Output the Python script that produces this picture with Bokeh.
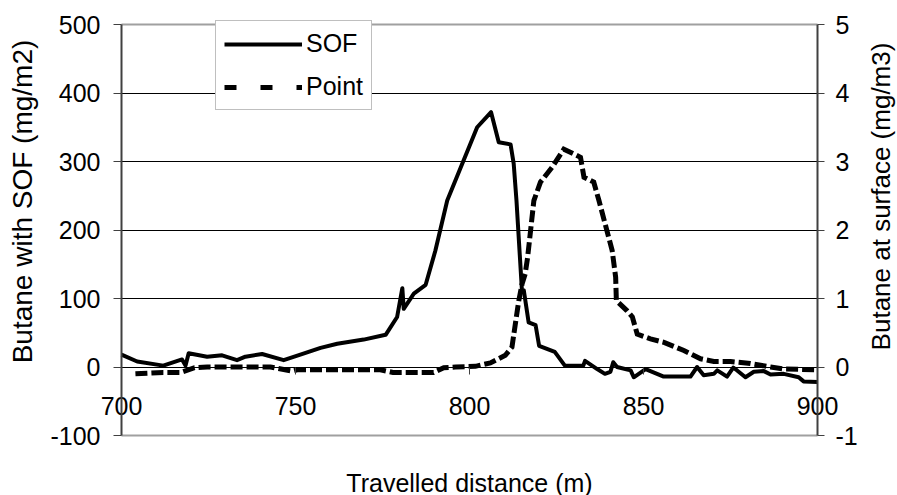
import math
from bokeh.plotting import figure
from bokeh.models import (Range1d, LinearAxis, FixedTicker, Legend, LegendItem, Label, Grid)
from bokeh.embed import file_html
from bokeh.resources import INLINE

# ---- data ----
sof_x = [700, 704.5, 712, 717.4, 718.4, 719.3, 724.6, 728.9, 733.2, 735.6, 740.4, 746.6,
         751.4, 757.2, 762, 769.6, 775.9, 779.2, 780.7, 781.1, 784, 787.4, 790.2, 793.6,
         802.2, 806.2, 808.4, 811.8, 812.7, 813.5, 815.1, 815.6, 817, 819, 820, 824.5,
         827.4, 832.7, 833.2, 836.7, 838.9, 840.5, 841.3, 842.4, 846.3, 847.2, 850.6,
         855.8, 863.5, 865.4, 867.3, 870.2, 871.2, 874, 875.8, 876.9, 879.3, 881.7,
         884.6, 886.5, 890.3, 894.6, 896, 900]
sof_y = [18, 8, 2, 11, 2, 20, 15, 17, 10, 15, 19, 10,
         18, 28, 34, 40, 47, 73, 115, 85, 107, 120, 170, 243,
         350, 372, 328, 325, 297, 243, 109, 112, 65, 61, 31, 22,
         2, 2, 9, -3, -10, -7, 7, 0, -5, -15, -3,
         -14, -14, 0, -12, -10, -5, -14, -1, -5, -15, -7,
         -6, -11, -10, -15, -21, -22]

pt_x = [704, 712, 717, 721, 724.6, 742.8, 749, 750.5, 762, 771.6, 774.4, 778, 789.7,
        792.6, 796, 801.7, 806, 810.3, 812.2, 814.1, 815.1, 816, 816.7, 818.5, 820.4,
        823.8, 827.1, 830, 831.9, 832.9, 835.7, 837.2, 841, 842, 842.2, 845.3, 846.8,
        848.2, 852, 855.9, 861.6, 866.4, 870.2, 875, 880.7, 886.5, 890.3, 899.4]
pt_y = [-0.1, -0.08, -0.08, -0.01, 0.0, 0.0, -0.06, -0.04, -0.04, -0.04, -0.04, -0.08, -0.08,
        -0.01, 0.0, 0.01, 0.06, 0.17, 0.29, 0.95, 1.21, 1.36, 1.6, 2.43, 2.7,
        2.92, 3.18, 3.11, 3.06, 2.77, 2.7, 2.43, 1.7, 1.31, 0.97, 0.82, 0.73,
        0.48, 0.41, 0.36, 0.24, 0.12, 0.08, 0.08, 0.05, 0.0, -0.03, -0.04]

x_ticks = [700, 750, 800, 850, 900]
left_ticks = [-100, 0, 100, 200, 300, 400, 500]
right_ticks = [-1, 0, 1, 2, 3, 4, 5]
grid_ticks = [0, 100, 200, 300, 400]
border_ticks = [-100, 500]

series_names = ["SOF", "Point"]
x_title = "Travelled distance (m)"
left_title = "Butane with SOF (mg/m2)"
right_title = "Butane at surface (mg/m3)"

FONT = "Liberation Sans"
FS = "25px"
LFS = "28px"
RFS = "26px"
TFS = "25px"
AXC = "#404040"

# ---- layout: frame covers the whole canvas; plot box 121..817 x 24..435 px ----
W, H = 897, 495
BX0, BX1, BY0, BY1 = 121, 817, 24, 435
XMIN, XMAX = x_ticks[0], x_ticks[-1]
YMIN, YMAX = left_ticks[0], left_ticks[-1]
RMIN, RMAX = right_ticks[0], right_ticks[-1]
sx = (BX1 - BX0) / (XMAX - XMIN)
sy = (BY1 - BY0) / (YMAX - YMIN)
xr = Range1d(XMIN - BX0 / sx, XMAX + (W - BX1) / sx)
yr = Range1d(YMIN - (H - BY1) / sy, YMAX + BY0 / sy)
k = (RMAX - RMIN) / (YMAX - YMIN)
rr = Range1d(RMIN - (H - BY1) / sy * k, RMAX + BY0 / sy * k)

p = figure(width=W, height=H, output_backend="svg", toolbar_location=None,
           x_range=xr, y_range=yr,
           min_border_left=0, min_border_right=0, min_border_top=0, min_border_bottom=0,
           background_fill_color="white", border_fill_color="white")
p.extra_y_ranges = {"r": rr}
p.outline_line_color = None

# grid lines
p.xgrid.visible = False
g = p.ygrid[0]
g.ticker = FixedTicker(ticks=grid_ticks, minor_ticks=[])
g.grid_line_color = "black"
g.grid_line_width = 1
g.cross_bounds = (XMIN, XMAX)
gb = Grid(dimension=1, ticker=FixedTicker(ticks=border_ticks, minor_ticks=[]),
          grid_line_color="#a0a0a0", grid_line_width=2, cross_bounds=(XMIN, XMAX))
p.add_layout(gb)

# x axis drawn at y = 0
xa = p.xaxis[0]
xa.fixed_location = 0
xa.bounds = (XMIN, XMAX)
xa.ticker = FixedTicker(ticks=x_ticks, minor_ticks=[])
xa.axis_line_color = "black"
xa.axis_line_width = 1
xa.major_tick_out = 7
xa.major_tick_in = 0
xa.major_tick_line_color = AXC
xa.minor_tick_out = 0
xa.major_label_standoff = 23
xa.major_label_text_font = FONT
xa.major_label_text_font_size = TFS
xa.major_label_text_color = "black"

# left axis
ya = p.yaxis[0]
ya.fixed_location = XMIN
ya.bounds = (YMIN, YMAX)
ya.ticker = FixedTicker(ticks=left_ticks, minor_ticks=[])
ya.axis_line_color = AXC
ya.axis_line_width = 2
ya.major_tick_out = 8
ya.major_tick_in = 0
ya.major_tick_line_color = AXC
ya.minor_tick_out = 0
ya.major_label_standoff = 13
ya.major_label_text_font = FONT
ya.major_label_text_font_size = TFS
ya.major_label_text_color = "black"
ya.major_label_overrides = {-100: "-100"}

# right axis
ra = LinearAxis(y_range_name="r", ticker=FixedTicker(ticks=right_ticks, minor_ticks=[]))
ra.fixed_location = XMAX
ra.bounds = (RMIN, RMAX)
ra.axis_line_color = AXC
ra.axis_line_width = 2
ra.major_tick_out = 7
ra.major_tick_in = 0
ra.major_tick_line_color = AXC
ra.minor_tick_out = 0
ra.major_label_standoff = 11
ra.major_label_text_font = FONT
ra.major_label_text_font_size = TFS
ra.major_label_text_color = "black"
ra.major_label_overrides = {-1: "-1"}
p.add_layout(ra, "right")

# series
sof = p.line(sof_x, sof_y, line_color="black", line_width=4, line_join="round")
pt = p.line(pt_x, pt_y, y_range_name="r", line_color="black", line_width=5,
            line_dash="12 4", line_join="miter")
pt_leg = p.line(x=[float("nan")], y=[float("nan")], y_range_name="r", line_color="black",
                line_width=5, line_dash="12 24")

legend = Legend(items=[LegendItem(label=series_names[0], renderers=[sof]),
                       LegendItem(label=series_names[1], renderers=[pt_leg])],
                location=(215, H - 110), glyph_width=78, glyph_height=28, label_height=28,
                label_standoff=4, padding=8, spacing=14, margin=0,
                border_line_color="#808080", border_line_width=1,
                background_fill_color="white", background_fill_alpha=1,
                label_text_font=FONT, label_text_font_size=FS, label_text_color="black")
p.add_layout(legend, "center")

# titles
p.add_layout(Label(x=(BX0 + BX1) / 2, y=H - 482, x_units="screen", y_units="screen", text=x_title,
                   text_align="center", text_baseline="middle",
                   text_font=FONT, text_font_size=FS, text_color="black"))
p.add_layout(Label(x=22, y=H - 201, x_units="screen", y_units="screen", text=left_title,
                   angle=90, angle_units="deg", text_align="center", text_baseline="middle",
                   text_font=FONT, text_font_size=LFS, text_color="black"))
p.add_layout(Label(x=880, y=H - 196, x_units="screen", y_units="screen", text=right_title,
                   angle=90, angle_units="deg", text_align="center", text_baseline="middle",
                   text_font=FONT, text_font_size=RFS, text_color="black"))

open("out.html", "w").write(file_html(p, INLINE))
